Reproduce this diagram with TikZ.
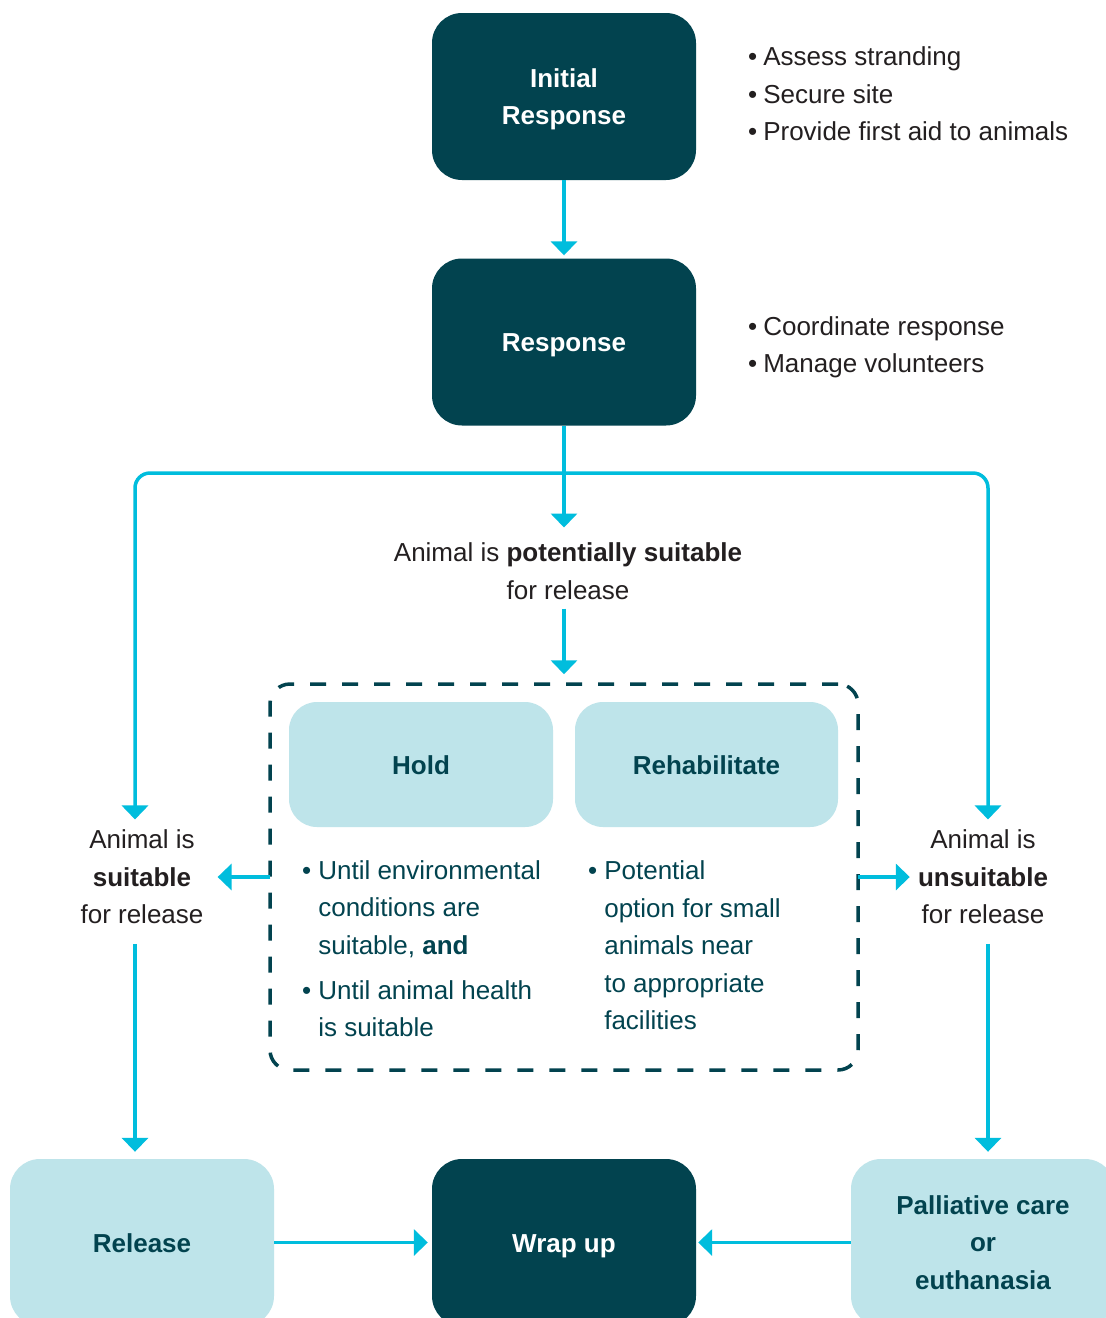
\documentclass[tikz,border=0pt]{standalone}
\usepackage{fontspec}
\setmainfont{Liberation Sans}
\usetikzlibrary{arrows.meta}
\definecolor{dark}{HTML}{02434F}
\definecolor{lightb}{HTML}{BEE4EA}
\definecolor{cyanl}{HTML}{00BDDD}
\definecolor{txt}{HTML}{231F20}
\newcommand\myfs{\fontsize{26}{37.5}\selectfont}
\begin{document}
\begin{tikzpicture}[x=1pt,y=-1pt,
  darkbox/.style={fill=dark, rounded corners=30pt, minimum width=264pt, minimum height=167pt, text=white, font=\myfs\bfseries, align=center, inner sep=0pt, text height=25pt, text depth=5.5pt},
  lightbox/.style={fill=lightb, rounded corners=30pt, minimum width=264pt, minimum height=167pt, text=dark, font=\myfs\bfseries, align=center, inner sep=0pt, text height=25pt, text depth=5.5pt},
  subbox/.style={lightbox, minimum height=125pt, rounded corners=28pt},
  lbl/.style={text=txt, font=\myfs, align=center, inner sep=0pt},
  blist/.style={font=\myfs, inner sep=0pt, anchor=west},
  arr/.style={draw=cyanl, line width=3.5pt, -{Triangle[width=26pt,length=14pt]}},
  grpbox/.style={draw=dark, line width=3.5pt, dash pattern=on 16pt off 16pt, rounded corners=20pt, minimum width=588pt, minimum height=386pt}
]
\clip (0,0) rectangle (1106,1318);
\fill[white] (0,0) rectangle (1106,1318);

% main boxes
\node[darkbox, text height=61.5pt] (ir) at (564,96.5) {Initial\\Response};
\node[darkbox] (r) at (564,342) {Response};
\node[darkbox] (wrap) at (564,1242.5) {Wrap up};
\node[lightbox] (rel) at (142,1242.5) {Release};
\node[lightbox, text height=98.5pt] (pal) at (983,1242.5) {Palliative care\\or\\euthanasia};

% side bullet lists
\node[blist, text=txt] (l1) at (748,95.7) {\begin{tabular}{@{}l@{\hspace{6pt}}l@{}}•&Assess stranding\\•&Secure site\\•&Provide first aid to animals\end{tabular}};
\node[blist, text=txt] (l2) at (748,346.5) {\begin{tabular}{@{}l@{\hspace{6pt}}l@{}}•&Coordinate response\\•&Manage volunteers\end{tabular}};

% decision labels
\node[lbl] (pot) at (568,571) {Animal is \textbf{potentially suitable}\\for release};
\node[lbl] (suit) at (142,876.7) {Animal is\\\textbf{suitable}\\for release};
\node[lbl] (unsuit) at (983,876.7) {Animal is\\\textbf{unsuitable}\\for release};

% group
\node[grpbox] (grp) at (564,877) {};
\node[subbox] (hold) at (421,764.5) {Hold};
\node[subbox, minimum width=263pt] (rehab) at (706.5,764.5) {Rehabilitate};
\node[blist, text=dark] (hl) at (302,950.5) {\begin{tabular}{@{}l@{\hspace{7pt}}l@{}}•&Until environmental\\&conditions are\\&suitable, \textbf{and}\\[7.5pt]•&Until animal health\\&is suitable\end{tabular}};
\node[blist, text=dark] (rl) at (588,947) {\begin{tabular}{@{}l@{\hspace{7pt}}l@{}}•&Potential\\&option for small\\&animals near\\&to appropriate\\&facilities\end{tabular}};

% connectors
\draw[arr, shorten >=3pt] (ir) -- (r);
\draw[arr, shorten >=15pt] (r.south) -- (r.south |- pot.north);
\coordinate (br) at (564,473);
\draw[arr, rounded corners=15pt, shorten >=10pt] (br) -| ([xshift=-7pt]suit.north);
\draw[arr, rounded corners=15pt, shorten >=10pt] (br) -| ([xshift=5pt]unsuit.north);
\draw[arr, shorten <=9pt, shorten >=8pt] (pot.south -| grp.north) -- (grp.north);
\draw[arr, shorten <=-2pt, shorten >=14pt] (grp.west) -- (grp.west -| suit.east);
\draw[arr, shorten <=-2pt, shorten >=8pt] (grp.east) -- (grp.east -| unsuit.west);
\draw[arr, shorten <=20pt, shorten >=7pt] ([xshift=-7pt]suit.south) -- ([xshift=-7pt]rel.north);
\draw[arr, shorten <=20pt, shorten >=7pt] ([xshift=5pt]unsuit.south) -- ([xshift=5pt]pal.north);
\draw[arr, shorten >=4pt] (rel.east) -- (wrap.west);
\draw[arr, shorten >=2pt] (pal.west) -- (wrap.east);
\end{tikzpicture}
\end{document}
